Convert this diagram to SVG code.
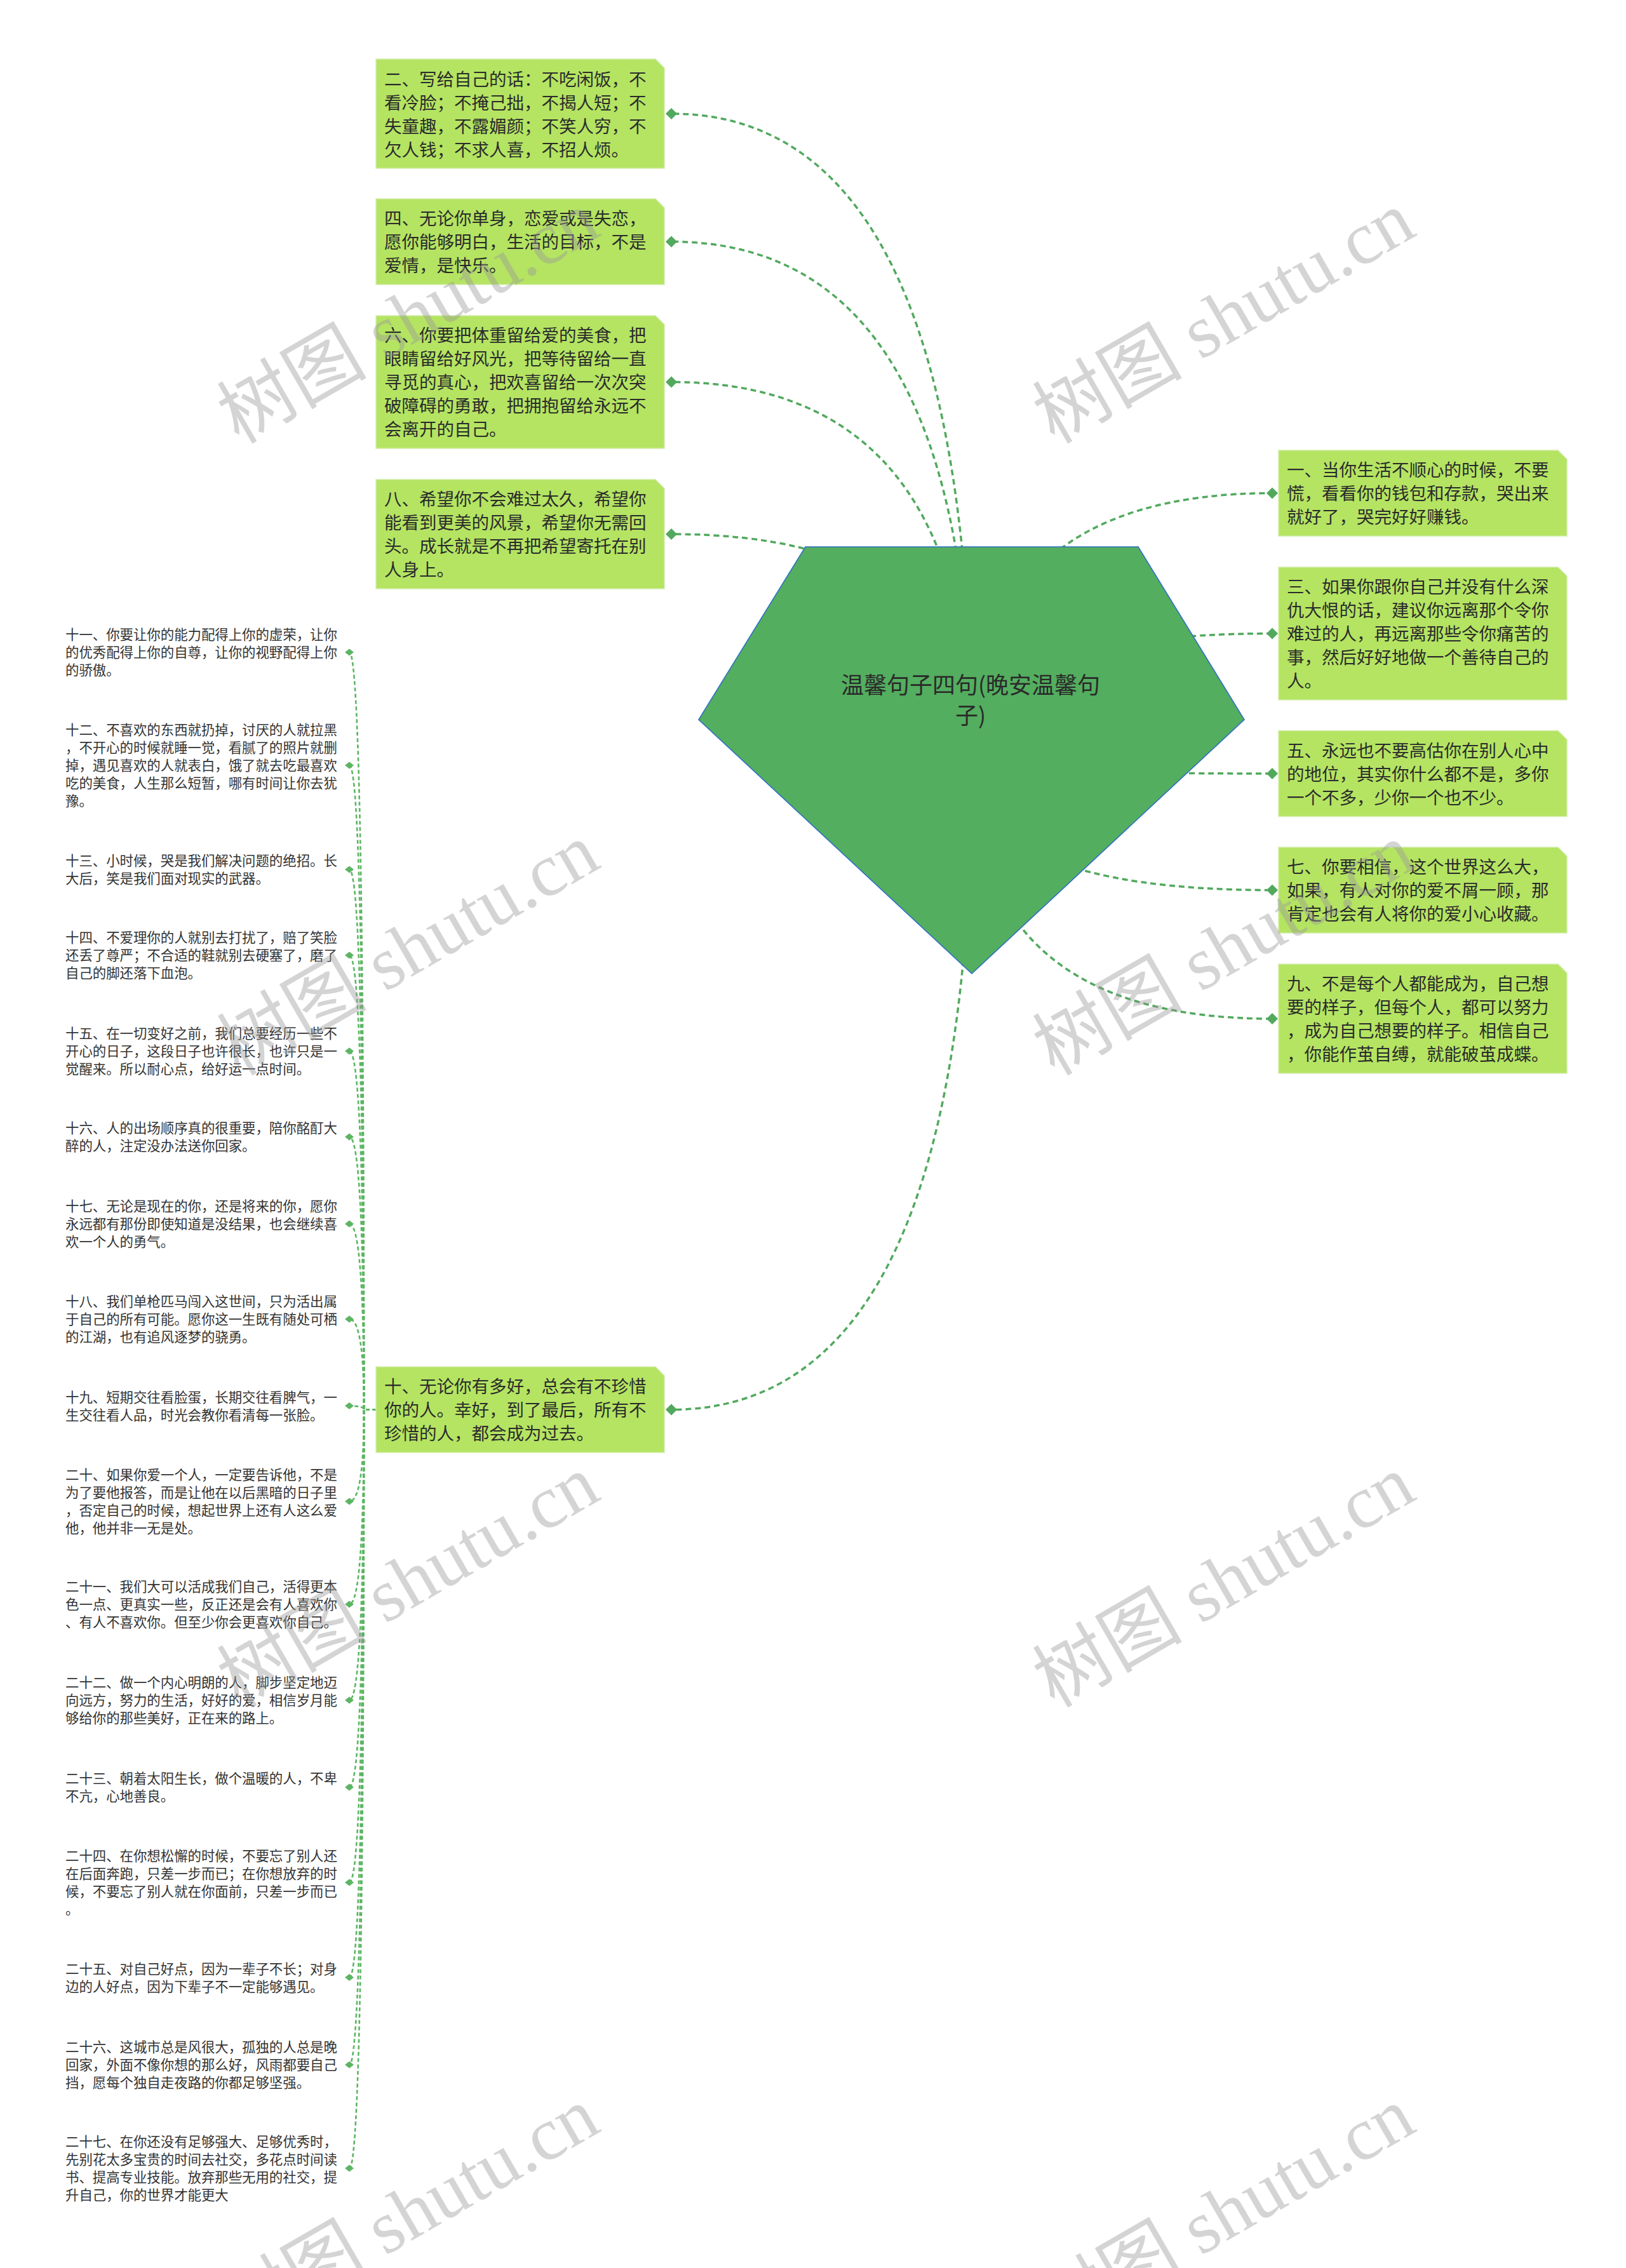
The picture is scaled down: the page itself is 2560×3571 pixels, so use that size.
<svg xmlns="http://www.w3.org/2000/svg" width="2560" height="3571" viewBox="0 0 2560 3571">
<style>
.bg{fill:#ffffff}
.box{fill:#b4e462;stroke:#d3ecaa;stroke-width:1.5}
.bt{font-family:"Noto Sans CJK SC","Noto Sans",sans-serif;font-size:27.5px;fill:#2b2b2b}
.lt{font-family:"Noto Sans CJK SC","Noto Sans",sans-serif;font-size:21.4px;fill:#333333}
.rt{font-family:"Noto Sans CJK SC","Noto Sans",sans-serif;font-size:36px;fill:#2a2a2a}
.c1{fill:none;stroke:#52a95e;stroke-width:3.5;stroke-dasharray:9 6}
.c2{fill:none;stroke:#5cb563;stroke-width:2.6;stroke-dasharray:6 4}
.dm{fill:#52a95e}
.ds{fill:#5cb563}
.wm{font-family:"Liberation Serif","Noto Sans CJK SC",serif;font-size:118px;fill:#9a9a9a;opacity:0.42}
</style>
<defs>
<path id="dmk" d="M-9 0 L0 -9 L9 0 L0 9 Z"/>
<path id="dsk" d="M-7 0 L0 -5.5 L7 0 L0 5.5 Z"/>
</defs>
<rect class="bg" x="0" y="0" width="2560" height="3571"/>
<g id="connectors">
<path class="c1" d="M1530 1197 Q1530 179 1057 179"/>
<path class="c1" d="M1530 1197 Q1530 380.5 1057 380.5"/>
<path class="c1" d="M1530 1197 Q1530 601.5 1057 601.5"/>
<path class="c1" d="M1530 1197 Q1530 841 1057 841"/>
<path class="c1" d="M1530 1197 Q1530 2219.5 1057 2219.5"/>
<path class="c1" d="M1530 1197 Q1530 776.5 2003 776.5"/>
<path class="c1" d="M1530 1197 Q1530 997.5 2003 997.5"/>
<path class="c1" d="M1530 1197 Q1530 1218 2003 1218"/>
<path class="c1" d="M1530 1197 Q1530 1401.5 2003 1401.5"/>
<path class="c1" d="M1530 1197 Q1530 1604 2003 1604"/>
<path class="c2" d="M592 2219.5 H573 Q573 1027 550 1027"/>
<path class="c2" d="M592 2219.5 H573 Q573 1205 550 1205"/>
<path class="c2" d="M592 2219.5 H573 Q573 1369 550 1369"/>
<path class="c2" d="M592 2219.5 H573 Q573 1504 550 1504"/>
<path class="c2" d="M592 2219.5 H573 Q573 1655 550 1655"/>
<path class="c2" d="M592 2219.5 H573 Q573 1790 550 1790"/>
<path class="c2" d="M592 2219.5 H573 Q573 1927 550 1927"/>
<path class="c2" d="M592 2219.5 H573 Q573 2077 550 2077"/>
<path class="c2" d="M592 2219.5 H573 Q573 2213.6 550 2213.6"/>
<path class="c2" d="M592 2219.5 H573 Q573 2364 550 2364"/>
<path class="c2" d="M592 2219.5 H573 Q573 2526 550 2526"/>
<path class="c2" d="M592 2219.5 H573 Q573 2677 550 2677"/>
<path class="c2" d="M592 2219.5 H573 Q573 2814 550 2814"/>
<path class="c2" d="M592 2219.5 H573 Q573 2964 550 2964"/>
<path class="c2" d="M592 2219.5 H573 Q573 3113.5 550 3113.5"/>
<path class="c2" d="M592 2219.5 H573 Q573 3251 550 3251"/>
<path class="c2" d="M592 2219.5 H573 Q573 3414 550 3414"/>
</g>
<g id="root">
<polygon points="1268,861 1792,861 1959,1133 1530,1533 1100,1133" fill="#53ae5f" stroke="#2f6fc4" stroke-width="1.6"/>
<text class="rt" text-anchor="middle"><tspan x="1528" y="1092">温馨句子四句(晚安温馨句</tspan><tspan x="1528" y="1140">子)</tspan></text>
</g>
<g id="n2">
<path class="box" d="M592 93 H1032 L1046 107 V265 H592 Z"/>
<text class="bt"><tspan x="605" y="134.5">二、写给自己的话：不吃闲饭，不</tspan><tspan x="605" y="171.5">看冷脸；不掩己拙，不揭人短；不</tspan><tspan x="605" y="208.5">失童趣，不露媚颜；不笑人穷，不</tspan><tspan x="605" y="245.5">欠人钱；不求人喜，不招人烦。</tspan></text>
<use href="#dmk" class="dm" x="1057" y="179"/>
</g>
<g id="n4">
<path class="box" d="M592 313 H1032 L1046 327 V448 H592 Z"/>
<text class="bt"><tspan x="605" y="354">四、无论你单身，恋爱或是失恋，</tspan><tspan x="605" y="391">愿你能够明白，生活的目标，不是</tspan><tspan x="605" y="428">爱情，是快乐。</tspan></text>
<use href="#dmk" class="dm" x="1057" y="380.5"/>
</g>
<g id="n6">
<path class="box" d="M592 497 H1032 L1046 511 V706 H592 Z"/>
<text class="bt"><tspan x="605" y="538">六、你要把体重留给爱的美食，把</tspan><tspan x="605" y="575">眼睛留给好风光，把等待留给一直</tspan><tspan x="605" y="612">寻觅的真心，把欢喜留给一次次突</tspan><tspan x="605" y="649">破障碍的勇敢，把拥抱留给永远不</tspan><tspan x="605" y="686">会离开的自己。</tspan></text>
<use href="#dmk" class="dm" x="1057" y="601.5"/>
</g>
<g id="n8">
<path class="box" d="M592 755 H1032 L1046 769 V927 H592 Z"/>
<text class="bt"><tspan x="605" y="796">八、希望你不会难过太久，希望你</tspan><tspan x="605" y="833">能看到更美的风景，希望你无需回</tspan><tspan x="605" y="870">头。成长就是不再把希望寄托在别</tspan><tspan x="605" y="907">人身上。</tspan></text>
<use href="#dmk" class="dm" x="1057" y="841"/>
</g>
<g id="n10">
<path class="box" d="M592 2152 H1032 L1046 2166 V2287 H592 Z"/>
<text class="bt"><tspan x="605" y="2193">十、无论你有多好，总会有不珍惜</tspan><tspan x="605" y="2230">你的人。幸好，到了最后，所有不</tspan><tspan x="605" y="2267">珍惜的人，都会成为过去。</tspan></text>
<use href="#dmk" class="dm" x="1057" y="2219.5"/>
</g>
<g id="n1">
<path class="box" d="M2013 709 H2453 L2467 723 V844 H2013 Z"/>
<text class="bt"><tspan x="2026" y="750">一、当你生活不顺心的时候，不要</tspan><tspan x="2026" y="787">慌，看看你的钱包和存款，哭出来</tspan><tspan x="2026" y="824">就好了，哭完好好赚钱。</tspan></text>
<use href="#dmk" class="dm" x="2003" y="776.5"/>
</g>
<g id="n3">
<path class="box" d="M2013 893 H2453 L2467 907 V1102 H2013 Z"/>
<text class="bt"><tspan x="2026" y="934">三、如果你跟你自己并没有什么深</tspan><tspan x="2026" y="971">仇大恨的话，建议你远离那个令你</tspan><tspan x="2026" y="1008">难过的人，再远离那些令你痛苦的</tspan><tspan x="2026" y="1045">事，然后好好地做一个善待自己的</tspan><tspan x="2026" y="1082">人。</tspan></text>
<use href="#dmk" class="dm" x="2003" y="997.5"/>
</g>
<g id="n5">
<path class="box" d="M2013 1150.5 H2453 L2467 1164.5 V1285.5 H2013 Z"/>
<text class="bt"><tspan x="2026" y="1191.5">五、永远也不要高估你在别人心中</tspan><tspan x="2026" y="1228.5">的地位，其实你什么都不是，多你</tspan><tspan x="2026" y="1265.5">一个不多，少你一个也不少。</tspan></text>
<use href="#dmk" class="dm" x="2003" y="1218"/>
</g>
<g id="n7">
<path class="box" d="M2013 1334 H2453 L2467 1348 V1469 H2013 Z"/>
<text class="bt"><tspan x="2026" y="1375">七、你要相信，这个世界这么大，</tspan><tspan x="2026" y="1412">如果，有人对你的爱不屑一顾，那</tspan><tspan x="2026" y="1449">肯定也会有人将你的爱小心收藏。</tspan></text>
<use href="#dmk" class="dm" x="2003" y="1401.5"/>
</g>
<g id="n9">
<path class="box" d="M2013 1518 H2453 L2467 1532 V1690 H2013 Z"/>
<text class="bt"><tspan x="2026" y="1559">九、不是每个人都能成为，自己想</tspan><tspan x="2026" y="1596">要的样子，但每个人，都可以努力</tspan><tspan x="2026" y="1633">，成为自己想要的样子。相信自己</tspan><tspan x="2026" y="1670">，你能作茧自缚，就能破茧成蝶。</tspan></text>
<use href="#dmk" class="dm" x="2003" y="1604"/>
</g>
<g id="n11">
<text class="lt"><tspan x="103" y="1007">十一、你要让你的能力配得上你的虚荣，让你</tspan><tspan x="103" y="1035">的优秀配得上你的自尊，让你的视野配得上你</tspan><tspan x="103" y="1063">的骄傲。</tspan></text>
<use href="#dsk" class="ds" x="550" y="1027"/>
</g>
<g id="n12">
<text class="lt"><tspan x="103" y="1157">十二、不喜欢的东西就扔掉，讨厌的人就拉黑</tspan><tspan x="103" y="1185">，不开心的时候就睡一觉，看腻了的照片就删</tspan><tspan x="103" y="1213">掉，遇见喜欢的人就表白，饿了就去吃最喜欢</tspan><tspan x="103" y="1241">吃的美食，人生那么短暂，哪有时间让你去犹</tspan><tspan x="103" y="1269">豫。</tspan></text>
<use href="#dsk" class="ds" x="550" y="1205"/>
</g>
<g id="n13">
<text class="lt"><tspan x="103" y="1363">十三、小时候，哭是我们解决问题的绝招。长</tspan><tspan x="103" y="1391">大后，笑是我们面对现实的武器。</tspan></text>
<use href="#dsk" class="ds" x="550" y="1369"/>
</g>
<g id="n14">
<text class="lt"><tspan x="103" y="1484">十四、不爱理你的人就别去打扰了，赔了笑脸</tspan><tspan x="103" y="1512">还丢了尊严；不合适的鞋就别去硬塞了，磨了</tspan><tspan x="103" y="1540">自己的脚还落下血泡。</tspan></text>
<use href="#dsk" class="ds" x="550" y="1504"/>
</g>
<g id="n15">
<text class="lt"><tspan x="103" y="1635">十五、在一切变好之前，我们总要经历一些不</tspan><tspan x="103" y="1663">开心的日子，这段日子也许很长，也许只是一</tspan><tspan x="103" y="1691">觉醒来。所以耐心点，给好运一点时间。</tspan></text>
<use href="#dsk" class="ds" x="550" y="1655"/>
</g>
<g id="n16">
<text class="lt"><tspan x="103" y="1784">十六、人的出场顺序真的很重要，陪你酩酊大</tspan><tspan x="103" y="1812">醉的人，注定没办法送你回家。</tspan></text>
<use href="#dsk" class="ds" x="550" y="1790"/>
</g>
<g id="n17">
<text class="lt"><tspan x="103" y="1907">十七、无论是现在的你，还是将来的你，愿你</tspan><tspan x="103" y="1935">永远都有那份即使知道是没结果，也会继续喜</tspan><tspan x="103" y="1963">欢一个人的勇气。</tspan></text>
<use href="#dsk" class="ds" x="550" y="1927"/>
</g>
<g id="n18">
<text class="lt"><tspan x="103" y="2057">十八、我们单枪匹马闯入这世间，只为活出属</tspan><tspan x="103" y="2085">于自己的所有可能。愿你这一生既有随处可栖</tspan><tspan x="103" y="2113">的江湖，也有追风逐梦的骁勇。</tspan></text>
<use href="#dsk" class="ds" x="550" y="2077"/>
</g>
<g id="n19">
<text class="lt"><tspan x="103" y="2208">十九、短期交往看脸蛋，长期交往看脾气，一</tspan><tspan x="103" y="2236">生交往看人品，时光会教你看清每一张脸。</tspan></text>
<use href="#dsk" class="ds" x="550" y="2213.6"/>
</g>
<g id="n20">
<text class="lt"><tspan x="103" y="2330">二十、如果你爱一个人，一定要告诉他，不是</tspan><tspan x="103" y="2358">为了要他报答，而是让他在以后黑暗的日子里</tspan><tspan x="103" y="2386">，否定自己的时候，想起世界上还有人这么爱</tspan><tspan x="103" y="2414">他，他并非一无是处。</tspan></text>
<use href="#dsk" class="ds" x="550" y="2364"/>
</g>
<g id="n21">
<text class="lt"><tspan x="103" y="2506">二十一、我们大可以活成我们自己，活得更本</tspan><tspan x="103" y="2534">色一点、更真实一些，反正还是会有人喜欢你</tspan><tspan x="103" y="2562">、有人不喜欢你。但至少你会更喜欢你自己。</tspan></text>
<use href="#dsk" class="ds" x="550" y="2526"/>
</g>
<g id="n22">
<text class="lt"><tspan x="103" y="2657">二十二、做一个内心明朗的人，脚步坚定地迈</tspan><tspan x="103" y="2685">向远方，努力的生活，好好的爱，相信岁月能</tspan><tspan x="103" y="2713">够给你的那些美好，正在来的路上。</tspan></text>
<use href="#dsk" class="ds" x="550" y="2677"/>
</g>
<g id="n23">
<text class="lt"><tspan x="103" y="2808">二十三、朝着太阳生长，做个温暖的人，不卑</tspan><tspan x="103" y="2836">不亢，心地善良。</tspan></text>
<use href="#dsk" class="ds" x="550" y="2814"/>
</g>
<g id="n24">
<text class="lt"><tspan x="103" y="2930">二十四、在你想松懈的时候，不要忘了别人还</tspan><tspan x="103" y="2958">在后面奔跑，只差一步而已；在你想放弃的时</tspan><tspan x="103" y="2986">候，不要忘了别人就在你面前，只差一步而已</tspan><tspan x="103" y="3014">。</tspan></text>
<use href="#dsk" class="ds" x="550" y="2964"/>
</g>
<g id="n25">
<text class="lt"><tspan x="103" y="3107.5">二十五、对自己好点，因为一辈子不长；对身</tspan><tspan x="103" y="3135.5">边的人好点，因为下辈子不一定能够遇见。</tspan></text>
<use href="#dsk" class="ds" x="550" y="3113.5"/>
</g>
<g id="n26">
<text class="lt"><tspan x="103" y="3231">二十六、这城市总是风很大，孤独的人总是晚</tspan><tspan x="103" y="3259">回家，外面不像你想的那么好，风雨都要自己</tspan><tspan x="103" y="3287">挡，愿每个独自走夜路的你都足够坚强。</tspan></text>
<use href="#dsk" class="ds" x="550" y="3251"/>
</g>
<g id="n27">
<text class="lt"><tspan x="103" y="3380">二十七、在你还没有足够强大、足够优秀时，</tspan><tspan x="103" y="3408">先别花太多宝贵的时间去社交，多花点时间读</tspan><tspan x="103" y="3436">书、提高专业技能。放弃那些无用的社交，提</tspan><tspan x="103" y="3464">升自己，你的世界才能更大</tspan></text>
<use href="#dsk" class="ds" x="550" y="3414"/>
</g>
<g id="watermark">
<text class="wm" transform="translate(376 700) rotate(-30)">树图 shutu.cn</text>
<text class="wm" transform="translate(1660 700) rotate(-30)">树图 shutu.cn</text>
<text class="wm" transform="translate(376 1695) rotate(-30)">树图 shutu.cn</text>
<text class="wm" transform="translate(1660 1695) rotate(-30)">树图 shutu.cn</text>
<text class="wm" transform="translate(376 2690) rotate(-30)">树图 shutu.cn</text>
<text class="wm" transform="translate(1660 2690) rotate(-30)">树图 shutu.cn</text>
<text class="wm" transform="translate(376 3685) rotate(-30)">树图 shutu.cn</text>
<text class="wm" transform="translate(1660 3685) rotate(-30)">树图 shutu.cn</text>
</g>
</svg>
